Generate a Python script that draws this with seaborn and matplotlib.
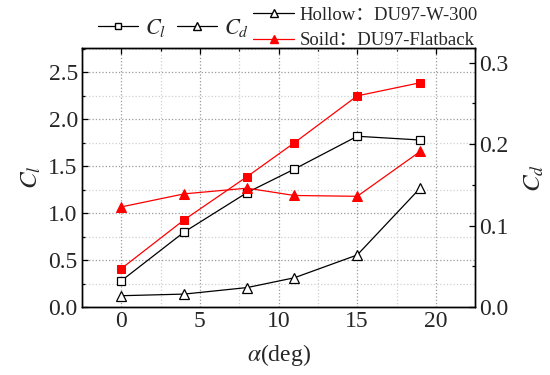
import matplotlib
matplotlib.use("Agg")
import matplotlib.pyplot as plt
import seaborn as sns
import pandas as pd
from matplotlib.lines import Line2D
from matplotlib.ticker import MultipleLocator

alpha = [0, 4, 8, 11, 15, 19]
cl_hollow = [0.28, 0.80, 1.22, 1.47, 1.82, 1.78]
cl_solid = [0.41, 0.93, 1.39, 1.75, 2.25, 2.39]
cd_hollow = [0.014, 0.016, 0.024, 0.036, 0.064, 0.146]
cd_solid = [0.123, 0.139, 0.146, 0.137, 0.136, 0.191]

sns.set_style("white")
plt.rcParams['font.family'] = ['Liberation Serif', 'Noto Sans CJK SC']
plt.rcParams['mathtext.fontset'] = 'stix'

fig = plt.figure(figsize=(5.5, 3.75), dpi=100)
ax = fig.add_axes([0.149, 0.181, 0.715, 0.691])
ax2 = ax.twinx()

ms = 6
sns.lineplot(x=alpha, y=cl_hollow, ax=ax, color='black', lw=0.9, marker='s', ms=ms,
             markerfacecolor='white', markeredgecolor='black', markeredgewidth=0.9)
sns.lineplot(x=alpha, y=cl_solid, ax=ax, color='red', lw=0.9, marker='s', ms=ms,
             markerfacecolor='red', markeredgecolor='red')
sns.lineplot(x=alpha, y=cd_hollow, ax=ax2, color='black', lw=0.9, marker='^', ms=7,
             markerfacecolor='white', markeredgecolor='black', markeredgewidth=0.9)
sns.lineplot(x=alpha, y=cd_solid, ax=ax2, color='red', lw=0.9, marker='^', ms=7,
             markerfacecolor='red', markeredgecolor='red')

ax.set_xlim(-2.5, 22.5)
ax.set_ylim(0, 2.76)
ax2.set_ylim(0, 0.318)

ax.xaxis.set_major_locator(MultipleLocator(5))
ax.xaxis.set_minor_locator(MultipleLocator(2.5))
ax.yaxis.set_major_locator(MultipleLocator(0.5))
ax.yaxis.set_minor_locator(MultipleLocator(0.25))
ax2.yaxis.set_major_locator(MultipleLocator(0.1))
ax2.yaxis.set_minor_locator(MultipleLocator(0.05))
ax.yaxis.set_major_formatter(matplotlib.ticker.FormatStrFormatter('%.1f'))
ax2.yaxis.set_major_formatter(matplotlib.ticker.FormatStrFormatter('%.1f'))

fs = 17
ax.tick_params(which='both', direction='in', top=True, right=False, labelsize=fs, color='black', pad=3)
ax.tick_params(which='major', length=4.5, width=0.9)
ax.tick_params(which='minor', length=2.5, width=0.9)
ax2.tick_params(which='both', direction='in', labelsize=fs, color='black', pad=3)
ax2.tick_params(which='major', length=4.5, width=0.9)
ax2.tick_params(which='minor', length=2.5, width=0.9)

ax.grid(which='major', color='#9a9a9a', linestyle=':', linewidth=0.9)
ax.grid(which='minor', color='#d0d0d0', linestyle=':', linewidth=0.9)
ax.set_axisbelow(True)
for sp in list(ax.spines.values()) + list(ax2.spines.values()):
    sp.set_color('black')
    sp.set_linewidth(1.0)

ax.set_xlabel(r'$\alpha$(deg)', fontsize=fs, labelpad=7)
ax.set_ylabel(r'$C_l$', fontsize=fs + 1, labelpad=4)
ax2.set_ylabel(r'$C_d$', fontsize=fs + 1, labelpad=10)

h1 = [Line2D([], [], color='black', lw=0.9, marker='s', ms=5, markerfacecolor='white'),
      Line2D([], [], color='black', lw=0.9, marker='^', ms=6, markerfacecolor='white')]
fig.legend(h1, [r'$C_l$', r'$C_d$'], ncol=2, loc='center', bbox_to_anchor=(0.315, 0.925),
           frameon=False, fontsize=fs - 1, handlelength=1.8, handletextpad=0.3, columnspacing=0.5)
h2 = [Line2D([], [], color='black', lw=0.9, marker='^', ms=6, markerfacecolor='white'),
      Line2D([], [], color='red', lw=0.9, marker='^', ms=6, markerfacecolor='red')]
fig.legend(h2, ['Hollow：DU97-W-300', 'Soild：DU97-Flatback'], loc='center left',
           bbox_to_anchor=(0.46, 0.926), frameon=False, fontsize=13.5, handlelength=2.2,
           handletextpad=0.3, labelspacing=0.45, borderaxespad=0, borderpad=0)

fig.savefig('out.png', dpi=100)
